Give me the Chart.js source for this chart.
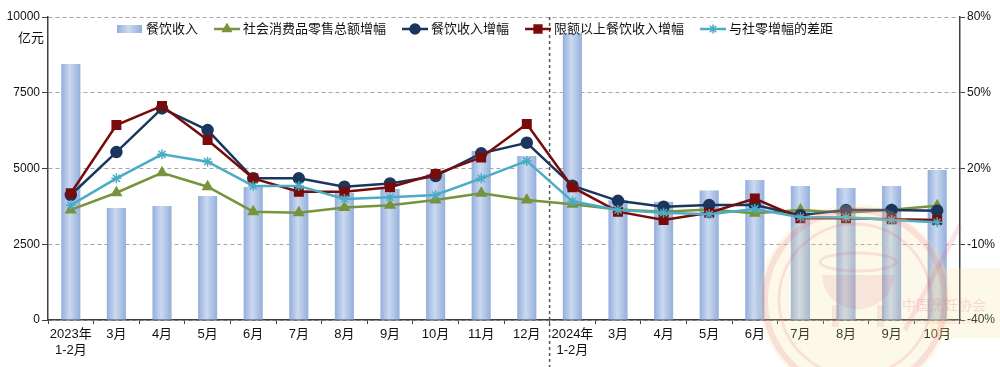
<!DOCTYPE html>
<html>
<head>
<meta charset="utf-8">
<script src="https://cdn.jsdelivr.net/npm/chart.js@4.4.1/dist/chart.umd.min.js"></script>
<style>
  html, body { margin: 0; padding: 0; background: #fff; }
</style>
</head>
<body>
<canvas id="chart" width="1000" height="367"></canvas>
<script>
const labels = [
    ['2023年', '1-2月'], '3月', '4月', '5月', '6月', '7月', '8月', '9月', '10月', '11月', '12月',
    ['2024年', '1-2月'], '3月', '4月', '5月', '6月', '7月', '8月', '9月', '10月'
];

// 亿元
const revenue = [8450, 3700, 3760, 4090, 4390, 4290, 4190, 4320, 4820, 5580, 5410,
                 9460, 3950, 3900, 4270, 4620, 4420, 4360, 4420, 4950];

// %
const retailGrowth = [3.6, 10.4, 18.3, 12.8, 2.9, 2.5, 4.6, 5.4, 7.5, 10.2, 7.5,
                      5.8, 3.8, 2.9, 3.8, 2.3, 3.6, 2.5, 3.7, 5.2];
const cateringGrowth = [9.5, 26.5, 43.8, 35.2, 16.1, 16.1, 12.8, 14.1, 17.0, 26.0, 30.2,
                        13.2, 7.2, 4.9, 5.5, 5.5, 1.5, 3.6, 3.6, 3.3];
const aboveGrowth = [10.2, 37.2, 44.8, 31.3, 16.1, 10.8, 10.8, 12.6, 17.8, 24.4, 37.6,
                     12.6, 2.9, -0.4, 2.5, 8.1, 0.3, 0.3, -0.1, -0.4];
const gapGrowth = [5.5, 16.1, 25.6, 22.7, 13.1, 13.1, 7.9, 8.6, 9.5, 16.1, 23.0,
                   7.0, 3.6, 2.5, 1.9, 4.0, 0.7, 0.7, -0.4, -1.3];

const leftTicks = [0, 2500, 5000, 7500, 10000];
const rightTicks = [-40, -10, 20, 50, 80];

const FONT = '"Liberation Sans", "Noto Sans CJK SC", sans-serif';
const AXIS = '#404040';
const BAR_PCT = 0.42;

function fillBarGradient(ctx, x0, x1) {
    const g = ctx.createLinearGradient(x0, 0, x1, 0);
    g.addColorStop(0, '#93aedc');
    g.addColorStop(0.45, '#cbd9f1');
    g.addColorStop(1, '#94afdb');
    return g;
}

function barGradient(c) {
    const chart = c.chart;
    const xs = chart.scales.x;
    if (!xs || c.type !== 'data') return '#a9c0e6';
    const cx = xs.getPixelForValue(c.dataIndex);
    const w = xs.width / labels.length * BAR_PCT;
    if (!isFinite(cx) || !isFinite(w) || w <= 0) return '#a9c0e6';
    return fillBarGradient(chart.ctx, cx - w / 2, cx + w / 2);
}

const extras = {
    id: 'extras',
    beforeDatasetsDraw(chart) {
        const ctx = chart.ctx;
        const xs = chart.scales.x;
        const x = (xs.getPixelForValue(10) + xs.getPixelForValue(11)) / 2;
        ctx.save();
        ctx.strokeStyle = '#555';
        ctx.lineWidth = 1.5;
        ctx.setLineDash([3, 3]);
        ctx.beginPath();
        ctx.moveTo(x, chart.chartArea.top);
        ctx.lineTo(x, chart.height);
        ctx.stroke();
        ctx.restore();
    },
    afterDatasetsDraw(chart) {
        // faint association watermark
        const ctx = chart.ctx;
        ctx.save();
        ctx.fillStyle = 'rgba(245, 225, 150, 0.2)';
        ctx.beginPath();
        ctx.arc(855, 300, 96, 0, Math.PI * 2);
        ctx.fill();
        ctx.fillRect(930, 268, 70, 70);
        ctx.strokeStyle = 'rgba(225, 90, 110, 0.16)';
        ctx.lineWidth = 6;
        ctx.beginPath();
        ctx.arc(855, 300, 90, 0, Math.PI * 2);
        ctx.stroke();
        ctx.lineWidth = 3;
        ctx.beginPath();
        ctx.arc(855, 300, 76, 0, Math.PI * 2);
        ctx.stroke();
        // pot
        ctx.lineWidth = 3;
        ctx.beginPath();
        ctx.ellipse(858, 262, 38, 9, 0, 0, Math.PI * 2);
        ctx.stroke();
        ctx.fillStyle = 'rgba(200, 80, 110, 0.12)';
        ctx.beginPath();
        ctx.moveTo(822, 275);
        ctx.lineTo(894, 275);
        ctx.quadraticCurveTo(892, 305, 858, 310);
        ctx.quadraticCurveTo(824, 305, 822, 275);
        ctx.fill();
        ctx.fillRect(832, 305, 7, 22);
        ctx.fillRect(877, 305, 7, 22);
        ctx.lineWidth = 5;
        ctx.beginPath();
        ctx.moveTo(905, 330);
        ctx.lineTo(960, 225);
        ctx.stroke();
        ctx.fillStyle = 'rgba(225, 90, 110, 0.22)';
        ctx.font = '14px "Noto Sans CJK SC"';
        ctx.textAlign = 'left';
        ctx.textBaseline = 'middle';
        ctx.fillText('中国烹饪协会', 902, 305);
        ctx.font = '5px "Liberation Sans"';
        ctx.fillText('CHINA CUISINE ASSOCIATION', 903, 323);
        ctx.restore();
    },
    afterDraw(chart) {
        const ctx = chart.ctx;
        ctx.save();
        ctx.fillStyle = '#111';
        ctx.font = '13px ' + FONT;
        ctx.textAlign = 'right';
        ctx.textBaseline = 'middle';
        ctx.fillText('亿元', 44, 38);

        // legend
        ctx.font = '13px ' + FONT;
        ctx.textAlign = 'left';
        let x = 117;
        const y = 29;
        chart.data.datasets.forEach((ds, i) => {
            if (i === 0) {
                ctx.fillStyle = fillBarGradient(ctx, x, x + 25);
                ctx.fillRect(x, y - 4, 25, 8);
            } else {
                ctx.strokeStyle = ds.borderColor;
                ctx.lineWidth = 2.5;
                ctx.beginPath();
                ctx.moveTo(x, y);
                ctx.lineTo(x + 26, y);
                ctx.stroke();
                ctx.fillStyle = ds.backgroundColor;
                ctx.lineWidth = 1.5;
                Chart.helpers.drawPoint(ctx, {
                    pointStyle: ds.pointStyle, radius: ds.pointRadius - 0.5,
                    borderWidth: 1.5, rotation: 0
                }, x + 13, y);
            }
            ctx.fillStyle = '#111';
            ctx.fillText(ds.label, x + 29, y);
            x += 29 + ctx.measureText(ds.label).width + 16;
        });
        ctx.restore();
    }
};

function lineSet(label, data, color, style, radius, order) {
    return {
        type: 'line', label, data, yAxisID: 'y2', order,
        borderColor: color, backgroundColor: color,
        borderWidth: 2.5, pointStyle: style, pointRadius: radius,
        pointBorderWidth: 1.5, pointHoverRadius: radius, tension: 0
    };
}

new Chart(document.getElementById('chart'), {
    data: {
        labels: labels,
        datasets: [
            {
                type: 'bar', label: '餐饮收入', data: revenue, yAxisID: 'y', order: 10,
                backgroundColor: barGradient, barPercentage: BAR_PCT, categoryPercentage: 1
            },
            lineSet('社会消费品零售总额增幅', retailGrowth, '#77933c', 'triangle', 5.5, 4),
            lineSet('餐饮收入增幅', cateringGrowth, '#1b365d', 'circle', 5.5, 3),
            lineSet('限额以上餐饮收入增幅', aboveGrowth, '#7a0b0b', 'rect', 6, 2),
            lineSet('与社零增幅的差距', gapGrowth, '#4bacc6', 'star', 5, 1)
        ]
    },
    options: {
        responsive: false,
        animation: false,
        layout: { padding: { top: 17, left: 0, right: 0, bottom: 0 } },
        plugins: { legend: { display: false }, tooltip: { enabled: false } },
        scales: {
            x: {
                grid: { offset: true, drawOnChartArea: false, tickLength: 4, color: AXIS },
                border: { color: AXIS, width: 1.5 },
                ticks: { color: '#111', font: { size: 13, family: FONT }, padding: 3,
                         maxRotation: 0, autoSkip: false },
                afterFit(s) { s.height = 47; }
            },
            y: {
                position: 'left', min: 0, max: 10000,
                afterBuildTicks(s) { s.ticks = leftTicks.map(v => ({ value: v })); },
                ticks: { color: '#111', font: { size: 12, family: FONT }, padding: 2,
                         callback: v => String(v) },
                grid: { color: '#a6a6a6', tickColor: AXIS, tickLength: 6, tickBorderDash: [] },
                border: { color: AXIS, width: 1.5, dash: [4, 3] },
                afterFit(s) { s.width = 48; }
            },
            y2: {
                position: 'right', min: -40, max: 80,
                afterBuildTicks(s) { s.ticks = rightTicks.map(v => ({ value: v })); },
                ticks: { color: '#111', font: { size: 12, family: FONT }, padding: 2,
                         callback: v => v + '%' },
                grid: { drawOnChartArea: false, tickLength: 5, color: AXIS },
                border: { color: AXIS, width: 1.5 },
                afterFit(s) { s.width = 40; }
            }
        }
    },
    plugins: [extras]
});
</script>
</body>
</html>
